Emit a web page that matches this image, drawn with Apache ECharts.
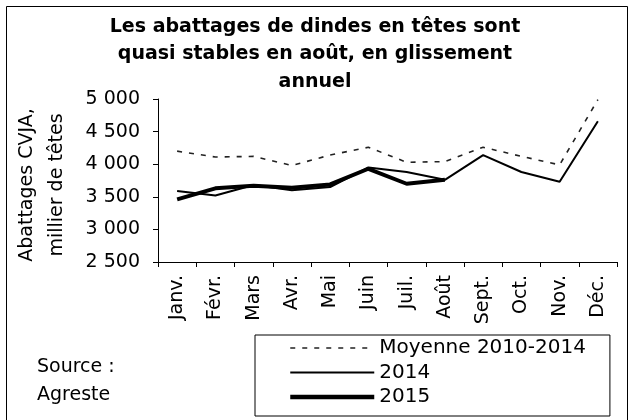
<!DOCTYPE html>
<html>
<head>
<meta charset="utf-8">
<script src="https://cdn.jsdelivr.net/npm/echarts@6/dist/echarts.min.js"></script>
<style>
  html, body { margin: 0; padding: 0; background: #fff; }
  #chart { width: 628px; height: 420px; }
</style>
</head>
<body>
<div id="chart"></div>
<script>
// mois
var months = ['Janv.', 'Févr.', 'Mars', 'Avr.', 'Mai', 'Juin', 'Juil.', 'Août', 'Sept.', 'Oct.', 'Nov.', 'Déc.'];
// milliers de têtes
var moyenne = [4200, 4110, 4120, 3980, 4140, 4260, 4030, 4040, 4260, 4120, 3990, 4990];
var y2014 = [3590, 3520, 3680, 3600, 3650, 3950, 3880, 3760, 4140, 3880, 3730, 4660];
var y2015 = [3460, 3630, 3670, 3640, 3690, 3930, 3700, 3760];
var yTicks = [2500, 3000, 3500, 4000, 4500, 5000];

var chart = echarts.init(document.getElementById('chart'));
var font = 'DejaVu Sans, Verdana, sans-serif';

function fmt(v) {
  var s = String(v);
  return s.length > 3 ? s.slice(0, s.length - 3) + ' ' + s.slice(-3) : s;
}

var option = {
  backgroundColor: '#fff',
  animation: false,
  title: {
    text: 'Les abattages de dindes en têtes sont\nquasi stables en août, en glissement\nannuel',
    left: 315,
    textAlign: 'center',
    top: 13,
    padding: 0,
    textStyle: { fontFamily: font, fontSize: 19, fontWeight: 'bold', color: '#000', lineHeight: 27.5 }
  },
  grid: { left: 158, right: 11, top: 99, bottom: 158 },
  xAxis: {
    type: 'category',
    data: months,
    boundaryGap: true,
    axisLine: { lineStyle: { color: '#000', width: 1 } },
    axisTick: { show: true, length: 5, lineStyle: { color: '#000' } },
    axisLabel: { rotate: 90, color: '#000', fontFamily: font, fontSize: 19, margin: 13 }
  },
  yAxis: {
    type: 'value',
    min: yTicks[0],
    max: yTicks[yTicks.length - 1],
    interval: 500,
    splitLine: { show: false },
    axisLine: { show: true, lineStyle: { color: '#000', width: 1 } },
    axisTick: { show: true, length: 5, lineStyle: { color: '#000' } },
    axisLabel: { color: '#000', fontFamily: font, fontSize: 19, margin: 18, formatter: fmt }
  },
  legend: {
    orient: 'vertical',
    left: 255,
    top: 335,
    itemWidth: 84,
    itemHeight: 10,
    itemGap: 4.5,
    padding: [3, 24, 9, 33],
    borderColor: '#000',
    borderWidth: 1,
    itemStyle: { opacity: 0 },
    textStyle: { fontFamily: font, fontSize: 20, lineHeight: 20, color: '#000' },
    data: [
      { name: 'Moyenne 2010-2014', lineStyle: { width: 1.5, type: [5, 7], color: '#222' } },
      { name: '2014', lineStyle: { width: 2, color: '#000' } },
      { name: '2015', lineStyle: { width: 4.5, color: '#000' } }
    ]
  },
  graphic: [
    { type: 'rect', shape: { x: 6.5, y: 6.5, width: 621, height: 420 }, style: { fill: 'none', stroke: '#000', lineWidth: 1 }, z: -1 },
    {
      type: 'text', x: 42, y: 185, rotation: Math.PI / 2,
      style: { text: 'Abattages CVJA,\nmillier de têtes', font: '19px ' + font, fill: '#000', align: 'center', verticalAlign: 'middle', lineHeight: 30 }
    },
    { type: 'text', x: 37, y: 367, style: { text: 'Source :', font: '19px ' + font, fill: '#000', verticalAlign: 'middle' } },
    { type: 'text', x: 37, y: 395, style: { text: 'Agreste', font: '19px ' + font, fill: '#000', verticalAlign: 'middle' } }
  ],
  series: [
    {
      name: 'Moyenne 2010-2014', type: 'line', data: moyenne, symbol: 'none',
      lineStyle: { color: '#222', width: 1.6, type: [5, 7] }, itemStyle: { color: '#222' }
    },
    {
      name: '2014', type: 'line', data: y2014, symbol: 'none',
      lineStyle: { color: '#000', width: 2 }, itemStyle: { color: '#000' }
    },
    {
      name: '2015', type: 'line', data: y2015, symbol: 'none',
      lineStyle: { color: '#000', width: 4 }, itemStyle: { color: '#000' }
    }
  ]
};

chart.setOption(option);
</script>
</body>
</html>
